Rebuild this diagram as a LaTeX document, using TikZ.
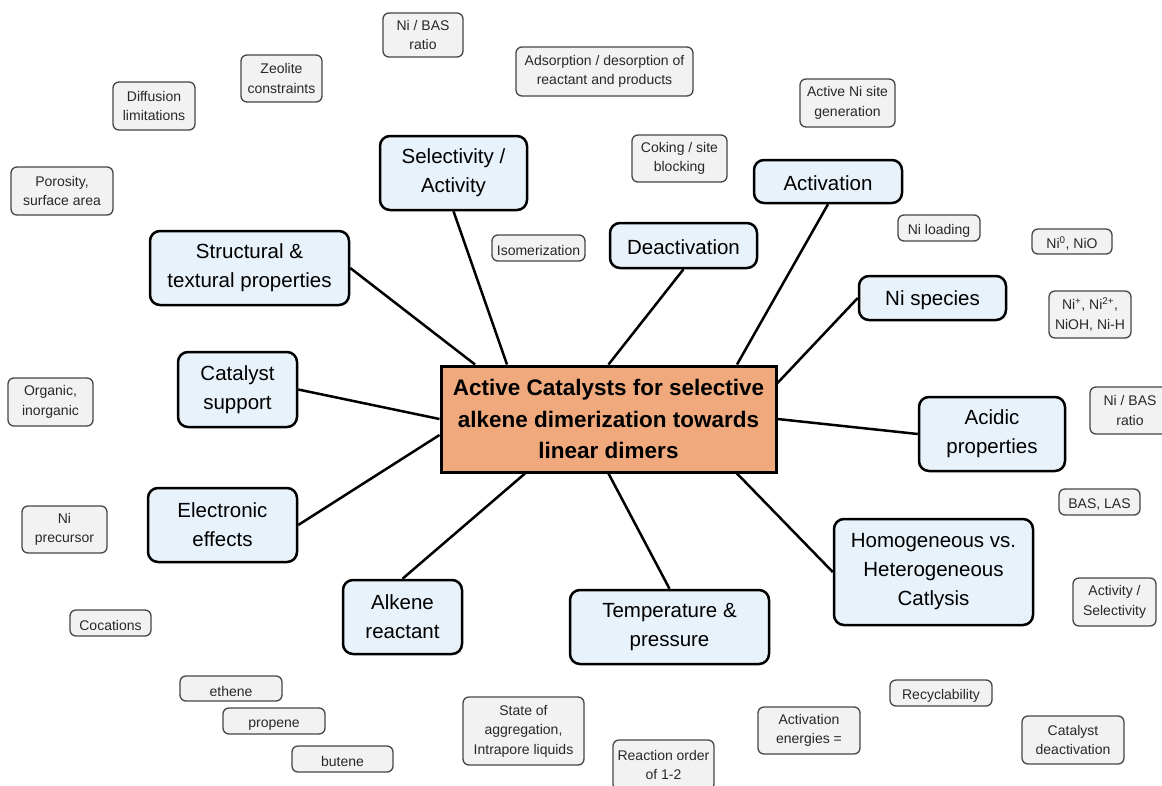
\documentclass[tikz,border=0pt]{standalone}
\usepackage{fontspec}
\setmainfont{Liberation Sans}
\usetikzlibrary{calc}
\definecolor{topicfill}{RGB}{232,242,250}
\definecolor{hubfill}{RGB}{239,169,124}
\definecolor{smallfill}{RGB}{242,242,242}
\definecolor{smalldraw}{RGB}{70,70,70}
\definecolor{smalltext}{RGB}{40,40,40}
\tikzset{
  topic/.style={draw=black, line width=2.5pt, fill=topicfill, rounded corners=10pt,
    align=center, inner sep=0pt, font=\fontsize{20.5}{29}\selectfont,
    execute at begin node={\rule{0pt}{18.5pt}}},
  hub/.style={draw=black, line width=3pt, fill=hubfill, align=center, inner sep=0pt,
    font=\fontsize{22.5}{31.5}\selectfont\bfseries},
  small/.style={draw=smalldraw, line width=1.3pt, fill=smallfill, rounded corners=6pt,
    align=center, inner sep=0pt, text=smalltext, font=\fontsize{14}{19.5}\selectfont,
    execute at begin node={\rule{0pt}{15.5pt}}},
  conn/.style={line width=2.5pt, draw=black}
}
\newcommand{\bx}[6]{\node[#1, minimum width=#4pt, minimum height=#5pt] (#2) at #3 {#6};}
\begin{document}
\begin{tikzpicture}[x=1pt,y=-1pt]
\useasboundingbox[fill=white] (0,0) rectangle (1162,785);
% hub
\bx{hub}{hub}{(608.5,419)}{335}{106}{Active Catalysts for selective\\alkene dimerization towards\\linear dimers}
% topics
\bx{topic}{sel}{(453.5,173)}{147}{74}{Selectivity /\\Activity}
\bx{topic}{act}{(828,181.5)}{148}{43}{Activation}
\bx{topic}{deact}{(683.5,245.5)}{147}{45}{Deactivation}
\bx{topic}{struct}{(249.5,268)}{199}{74}{Structural \&\\textural properties}
\bx{topic}{nisp}{(932.5,298)}{147}{44}{Ni species}
\bx{topic}{supp}{(237.5,389.5)}{119}{75}{Catalyst\\support}
\bx{topic}{acid}{(992,434)}{146}{74}{Acidic\\properties}
\bx{topic}{elec}{(222.5,525)}{149}{74}{Electronic\\effects}
\bx{topic}{hom}{(933.5,572)}{199}{106}{Homogeneous vs.\\Heterogeneous\\Catlysis}
\bx{topic}{alk}{(402.5,617)}{119}{74}{Alkene\\reactant}
\bx{topic}{temp}{(669.5,627)}{199}{74}{Temperature \&\\pressure}
% small labels
\bx{small}{nibasA}{(423,35)}{80}{44}{Ni / BAS\\ratio}
\bx{small}{zeo}{(281.5,78.5)}{81}{47}{Zeolite\\constraints}
\bx{small}{diff}{(154,106)}{82}{48}{Diffusion\\limitations}
\bx{small}{ads}{(604.5,71.5)}{177}{49}{Adsorption / desorption of\\reactant and products}
\bx{small}{actni}{(847.5,103)}{95}{48}{Active Ni site\\generation}
\bx{small}{cok}{(679.5,158.5)}{95}{47}{Coking / site\\blocking}
\bx{small}{poro}{(62,191)}{102}{48}{Porosity,\\surface area}
\bx{small}{iso}{(538.5,248)}{93}{26}{Isomerization}
\bx{small}{niload}{(939,228)}{82}{26}{Ni loading}
\bx{small}{nizero}{(1072,241.5)}{80}{25}{Ni\textsuperscript{0}, NiO}
\bx{small}{niplus}{(1090,314.5)}{82}{47}{Ni\textsuperscript{+}, Ni\textsuperscript{2+},\\NiOH, Ni-H}
\bx{small}{org}{(50.5,402)}{85}{48}{Organic,\\inorganic}
\bx{small}{nibasB}{(1130,410.5)}{80}{47}{Ni / BAS\\ratio}
\bx{small}{baslas}{(1099.5,502)}{81}{26}{BAS, LAS}
\bx{small}{niprec}{(64.5,529.5)}{85}{47}{Ni\\precursor}
\bx{small}{actsel}{(1114.5,602)}{83}{48}{Activity /\\Selectivity}
\bx{small}{coc}{(110.5,623)}{81}{26}{Cocations}
\bx{small}{eth}{(231,688.5)}{102}{25}{ethene}
\bx{small}{prop}{(274,721)}{102}{26}{propene}
\bx{small}{but}{(342.5,759)}{101}{26}{butene}
\bx{small}{state}{(523.5,731)}{121}{68}{State of\\aggregation,\\Intrapore liquids}
\bx{small}{react}{(663.5,765)}{101}{50}{Reaction order\\of 1-2}
\bx{small}{acten}{(809,730.5)}{102}{47}{Activation\\energies =}
\bx{small}{recyc}{(941,693)}{102}{26}{Recyclability}
\bx{small}{catdeact}{(1073,740)}{102}{48}{Catalyst\\deactivation}
% connectors
\draw[conn] (sel.south) -- ([xshift=-101.5pt]hub.north);
\draw[conn] (struct.east) -- ([xshift=-133.5pt]hub.north);
\draw[conn] (deact.south) -- (hub.north);
\draw[conn] (act.south) -- ([xshift=128.5pt]hub.north);
\draw[conn] (nisp.west) -- ([yshift=36pt]hub.east);
\draw[conn] (acid.west) -- (hub.east);
\draw[conn] (supp.east) -- (hub.west);
\draw[conn] (elec.east) -- ([yshift=-16pt]hub.west);
\draw[conn] (hom.west) -- ([xshift=128.5pt]hub.south);
\draw[conn] (alk.north) -- ([xshift=-83.5pt]hub.south);
\draw[conn] (temp.north) -- (hub.south);
\end{tikzpicture}
\end{document}
